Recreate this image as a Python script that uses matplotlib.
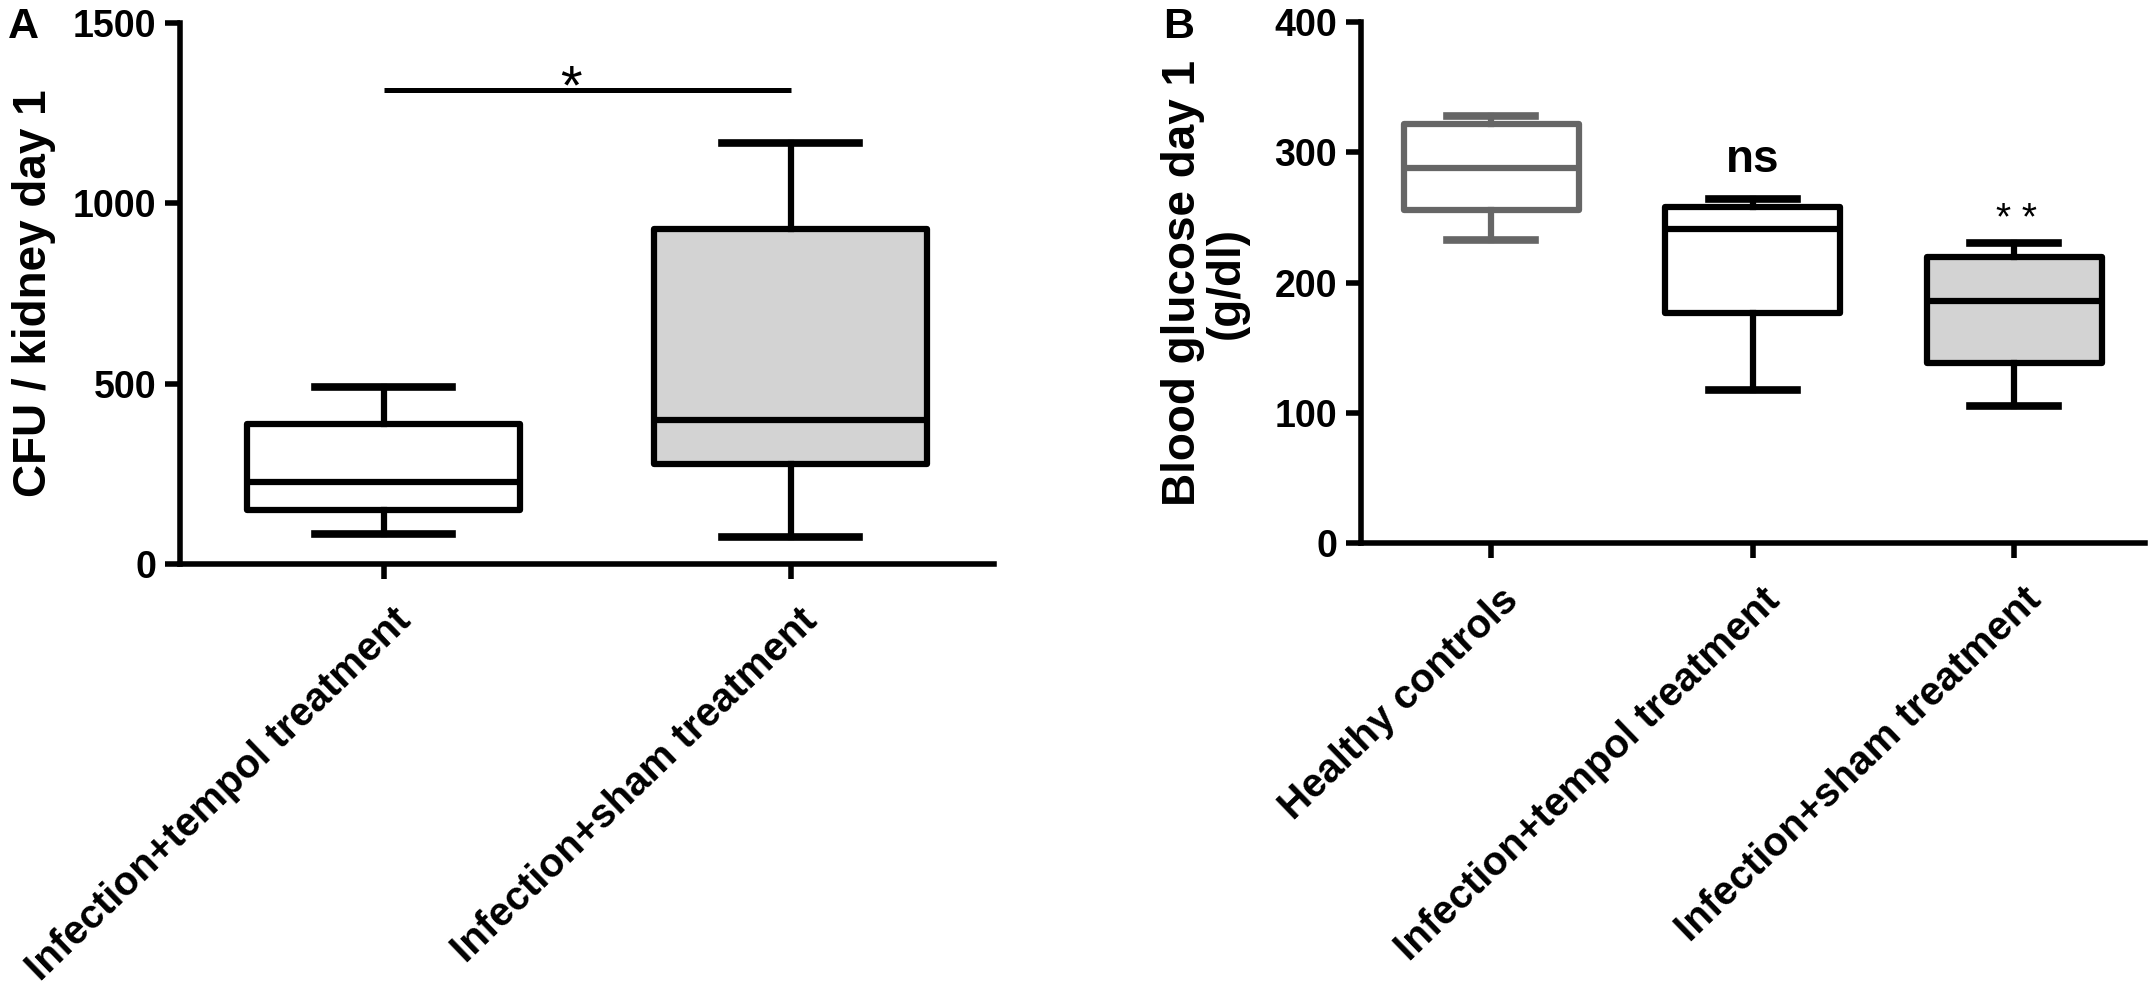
import matplotlib
matplotlib.use("Agg")
import matplotlib.pyplot as plt
from matplotlib.transforms import ScaledTranslation

plt.rcParams['font.family'] = ['Liberation Sans', 'DejaVu Sans']

# ---------------- data ----------------
cfu_groups = ["Infection+tempol treatment", "Infection+sham treatment"]
cfu_whislo = [83, 74]
cfu_q1 = [150, 278]
cfu_med = [228, 398]
cfu_q3 = [388, 929]
cfu_whishi = [491, 1168]
cfu_yticks = [0, 500, 1000, 1500]

glu_groups = ["Healthy controls", "Infection+tempol treatment", "Infection+sham treatment"]
glu_whislo = [233, 118, 105]
glu_q1 = [256, 177, 138]
glu_med = [288, 241, 186]
glu_q3 = [322, 258, 220]
glu_whishi = [328, 264, 230]
glu_yticks = [0, 100, 200, 300, 400]

sig_a_text = "*"
sig_a_y = 1313
sig_b_texts = ["", "ns", "* *"]

# ---------------- style ----------------
EDGE_A = ["black", "black"]
FILL_A = ["white", "#d3d3d3"]
EDGE_B = ["#666666", "black", "black"]
FILL_B = ["white", "white", "#d3d3d3"]
LW = 4.5
SPINE_LW = 4.0

W, H = 2154, 996
fig = plt.figure(figsize=(W / 100, H / 100), dpi=100)


def make_stats(lo, q1, med, q3, hi):
    return [dict(whislo=a, q1=b, med=c, q3=d, whishi=e, fliers=[])
            for a, b, c, d, e in zip(lo, q1, med, q3, hi)]


def draw_panel(ax, stats, edges, fills, groups, yticks, ylim):
    pos = list(range(1, len(stats) + 1))
    for i, (st, ec, fc) in enumerate(zip(stats, edges, fills)):
        ax.bxp([st], positions=[pos[i]], widths=0.67, capwidths=0.335,
               patch_artist=True, showfliers=False,
               boxprops=dict(facecolor=fc, edgecolor=ec, linewidth=LW, joinstyle='round'),
               whiskerprops=dict(color=ec, linewidth=LW),
               capprops=dict(color=ec, linewidth=LW + 1),
               medianprops=dict(color=ec, linewidth=LW))
    ax.set_xlim(0.5, len(stats) + 0.5)
    ax.set_ylim(*ylim)
    for s in ['top', 'right']:
        ax.spines[s].set_visible(False)
    for s in ['left', 'bottom']:
        ax.spines[s].set_linewidth(SPINE_LW)
    ax.tick_params(axis='both', direction='out', length=11, width=SPINE_LW)
    ax.tick_params(axis='y', pad=6)
    ax.tick_params(axis='x', pad=16)
    ax.set_yticks(yticks)
    ax.set_yticklabels([str(t) for t in yticks], fontsize=27, fontweight='bold')
    ax.set_xticks(pos)
    ax.set_xticklabels(groups, rotation=44, ha='right', va='top',
                       rotation_mode='anchor', fontsize=29, fontweight='bold')
    shift = ScaledTranslation(8 / 100, 0, fig.dpi_scale_trans)
    for lab in ax.get_xticklabels():
        lab.set_transform(lab.get_transform() + shift)
    ax.patch.set_alpha(0)


# Panel A
axA = fig.add_axes([180 / W, 1 - 564 / H, (994 - 180) / W, (564 - 23) / H])
draw_panel(axA, make_stats(cfu_whislo, cfu_q1, cfu_med, cfu_q3, cfu_whishi),
           EDGE_A, FILL_A, cfu_groups, cfu_yticks, (0, 1500))
axA.set_ylabel("CFU / kidney day 1", fontsize=33, fontweight='bold', labelpad=12)
axA.plot([1, 2], [sig_a_y, sig_a_y], color='black', linewidth=3.6, solid_capstyle='butt')
axA.text(1.46, 1278, sig_a_text, fontsize=40, ha='center', va='baseline')

# Panel B
axB = fig.add_axes([1360.5 / W, 1 - 543.4 / H, (2145 - 1360.5) / W, (543.4 - 21.8) / H])
draw_panel(axB, make_stats(glu_whislo, glu_q1, glu_med, glu_q3, glu_whishi),
           EDGE_B, FILL_B, glu_groups, glu_yticks, (0, 400))
axB.set_ylabel("Blood glucose day 1\n(g/dl)", fontsize=33, fontweight='bold',
               labelpad=18, linespacing=1.0)
axB.text(2, 285, sig_b_texts[1], fontsize=33, fontweight='bold', ha='center',
         va='baseline', family=['Liberation Sans Narrow', 'Liberation Sans'])
axB.text(3.01, 240, sig_b_texts[2], fontsize=28, ha='center', va='baseline')

fig.text(8 / W, 1 - 7 / H, "A", fontsize=31, fontweight='bold', ha='left', va='top')
fig.text(1163 / W, 1 - 7 / H, "B", fontsize=31, fontweight='bold', ha='left', va='top')

fig.savefig("out.png", dpi=100, facecolor='white')
